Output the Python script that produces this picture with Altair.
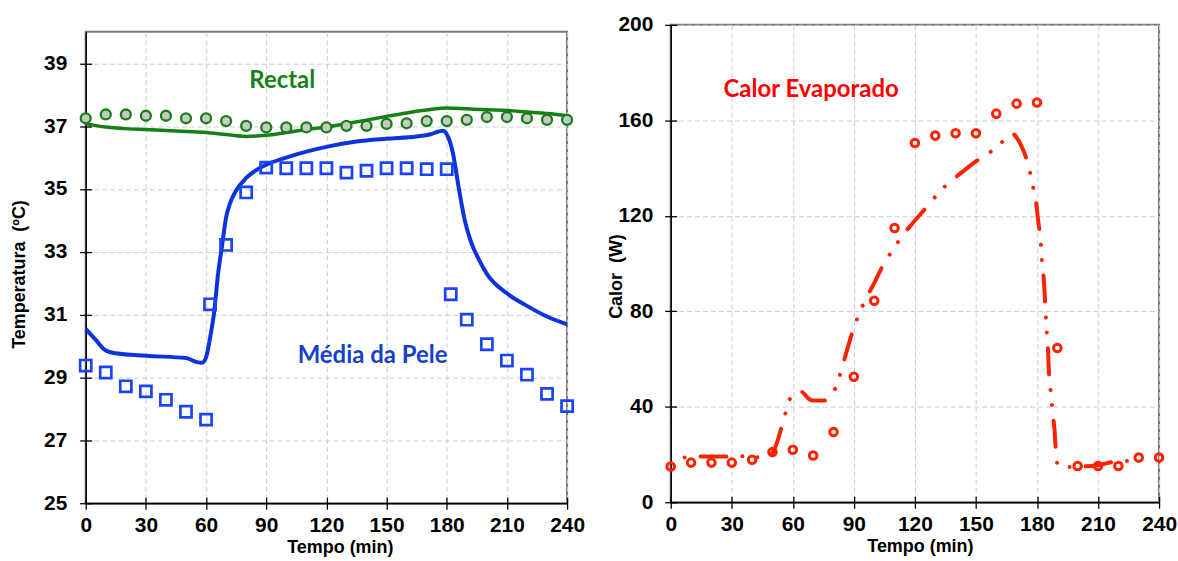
import altair as alt
import pandas as pd

# ---------------- data: left panel (temperatures) ----------------
t_rectal_obs = [0, 10, 20, 30, 40, 50, 60, 70, 80, 90, 100, 110, 120, 130, 140, 150, 160, 170, 180, 190, 200, 210, 220, 230, 240]
v_rectal_obs = [37.25, 37.37, 37.37, 37.33, 37.33, 37.25, 37.25, 37.16, 37.01, 36.96, 36.96, 36.96, 36.96, 37.01, 37.01,
                37.07, 37.09, 37.16, 37.16, 37.2, 37.29, 37.29, 37.25, 37.2, 37.2]

t_rectal_sim = [0, 10, 20, 30, 40, 50, 60, 70, 80, 90, 100, 110, 120, 130, 140, 150, 160, 170, 180, 190, 200, 210, 220, 230, 240]
v_rectal_sim = [37.08, 36.97, 36.92, 36.89, 36.86, 36.83, 36.80, 36.73, 36.67, 36.71, 36.80, 36.89, 36.97, 37.08, 37.19,
                37.31, 37.42, 37.51, 37.58, 37.55, 37.52, 37.50, 37.45, 37.40, 37.33]

t_skin_obs = [0, 10, 20, 30, 40, 50, 60, 62, 70, 80, 90, 100, 110, 120, 130, 140, 150, 160, 170, 180, 182, 190, 200, 210, 220, 230, 240]
v_skin_obs = [29.38, 29.16, 28.72, 28.56, 28.29, 27.91, 27.66, 31.33, 33.22, 34.89, 35.68, 35.66, 35.66, 35.66, 35.52,
              35.58, 35.66, 35.66, 35.63, 35.63, 31.65, 30.84, 30.06, 29.54, 29.09, 28.48, 28.09]

t_skin_sim = [0, 5, 10, 15, 30, 50, 55, 58, 60, 62, 64, 66, 68, 70, 72, 75, 80, 85, 90, 100, 110, 120, 135, 150, 165,
              172, 176, 178, 180, 183, 186, 189, 192, 196, 200, 210, 220, 230, 240]
v_skin_sim = [30.55, 30.2, 29.86, 29.77, 29.69, 29.62, 29.5, 29.47, 29.64, 30.26, 31.06, 32.3, 33.2, 34.1, 34.55, 34.95,
              35.35, 35.6, 35.77, 36.0, 36.19, 36.34, 36.51, 36.6, 36.67, 36.74, 36.83, 36.85, 36.74, 36.17, 35.03,
              34.0, 33.33, 32.76, 32.3, 31.68, 31.28, 30.94, 30.69]

# ---------------- data: right panel (evaporated heat) ----------------
t_evap_obs = [0, 10, 20, 30, 40, 50, 60, 70, 80, 90, 100, 110, 120, 130, 140, 150, 160, 170, 180, 190, 200, 210, 220, 230, 240]
v_evap_obs = [15.0, 16.6, 16.6, 16.6, 17.8, 21.0, 22.0, 19.6, 29.4, 52.6, 84.4, 114.9, 150.5, 153.6, 154.6, 154.6,
              162.8, 167.0, 167.5, 64.6, 15.2, 15.2, 15.2, 18.7, 18.7]

t_evap_sim = [0, 6, 14, 28, 36, 43, 48, 50.3, 54.4, 56.3, 58.8, 63.8, 68, 70, 75.6, 80.8, 83.4, 85.4, 89.5, 95, 100,
              105, 109.4, 113.6, 118.4, 127.5, 132.7, 138.4, 144.2, 150, 156.4, 161.8, 167.5, 171.9, 176.5, 178.1,
              179.6, 180.4, 182, 182.5, 183.3, 184.5, 185, 185.5, 185.8, 187.1, 187.7, 188.6, 189.1, 190.2, 194, 200,
              210, 216.8, 224, 230.7]
v_evap_sim = [18.3, 18.7, 19.2, 19.2, 19.3, 18.8, 19.5, 21.0, 31.2, 37.0, 43.6, 46.5, 43.2, 42.6, 42.6, 47.5, 54.0,
              60.0, 71.8, 83.6, 91.8, 100.3, 106.0, 111.4, 116.4, 125.4, 130.6, 135.0, 139.0, 142.8, 146.3, 150.0,
              154.5, 150.0, 138.7, 132.0, 125.6, 119.2, 107.4, 100.5, 93.9, 76.0, 69.0, 62.4, 55.8, 43.7, 37.3, 30.6,
              23.8, 15.5, 14.8, 14.9, 15.5, 16.8, 17.3, 17.8]

# ---------------- ticks and labels ----------------
x_ticks = [0, 30, 60, 90, 120, 150, 180, 210, 240]
temp_ticks = [25, 27, 29, 31, 33, 35, 37, 39]
heat_ticks = [0, 40, 80, 120, 160, 200]

left_labels = ["Rectal", "Média da Pele"]
left_label_t = [98, 143]
left_label_v = [38.42, 29.69]
right_labels = ["Calor Evaporado"]
right_label_t = [69]
right_label_v = [172.6]

GREEN = "#168016"
BLUE = "#0d33dd"
BLUE_SQ = "#1a44f5"
BLUE_TXT = "#1440cc"
RED = "#ff2200"
RED_TXT = "#ff0000"
AXFONT = "Liberation Sans"
TXTFONT = "Lato"

# ---------------- frames ----------------
df_r_obs = pd.DataFrame({"t": t_rectal_obs, "v": v_rectal_obs})
df_r_sim = pd.DataFrame({"t": t_rectal_sim, "v": v_rectal_sim})
df_s_obs = pd.DataFrame({"t": t_skin_obs, "v": v_skin_obs})
df_s_sim = pd.DataFrame({"t": t_skin_sim, "v": v_skin_sim})
df_e_obs = pd.DataFrame({"t": t_evap_obs, "v": v_evap_obs})
df_e_sim = pd.DataFrame({"t": t_evap_sim, "v": v_evap_sim})
df_lt = pd.DataFrame({"t": left_label_t, "v": left_label_v, "txt": left_labels, "c": [GREEN, BLUE_TXT]})
df_rt = pd.DataFrame({"t": right_label_t, "v": right_label_v, "txt": right_labels})

xscale = alt.Scale(domain=[0, 240], nice=False)
tscale = alt.Scale(domain=[25, 40], nice=False, zero=False)
hscale = alt.Scale(domain=[0, 200], nice=False)


def x_axis(title_x):
    return alt.Axis(values=x_ticks, title="Tempo (min)", labelFlush=False, labelOverlap=False,
                    labelPadding=5, titlePadding=3, titleX=title_x)


def ghost(df, yscale, yvals):
    # second, tick-only axes that make the ticks cross the axis lines
    return alt.Chart(df).mark_point(opacity=0).encode(
        x=alt.X("t:Q", scale=xscale,
                axis=alt.Axis(values=x_ticks, orient="bottom", offset=-6, tickSize=6, labels=False,
                              domain=False, grid=False, title="")),
        y=alt.Y("v:Q", scale=yscale,
                axis=alt.Axis(values=yvals, orient="left", offset=-6, tickSize=6, labels=False,
                              domain=False, grid=False, title="")),
    )


# ---------------- left chart ----------------
skin_line = alt.Chart(df_s_sim).mark_line(color=BLUE, strokeWidth=4, interpolate="monotone").encode(
    x=alt.X("t:Q", scale=xscale, axis=x_axis(255)),
    y=alt.Y("v:Q", scale=tscale,
            axis=alt.Axis(values=temp_ticks, title="Temperatura\u00a0 (ºC)", labelFlush=False, labelOverlap=False,
                          labelPadding=13, titleX=-57, titleY=243)),
)
rectal_line = alt.Chart(df_r_sim).mark_line(color=GREEN, strokeWidth=3.5, interpolate="monotone").encode(
    x="t:Q", y="v:Q")
skin_pts = alt.Chart(df_s_obs).mark_point(shape="square", filled=False, stroke=BLUE_SQ, strokeWidth=2.7,
                                          size=125, opacity=1).encode(x="t:Q", y="v:Q")
rectal_pts = alt.Chart(df_r_obs).mark_point(shape="circle", fill="#c8c8c8", fillOpacity=1, stroke=GREEN,
                                            strokeWidth=2.3, size=100, opacity=1).encode(x="t:Q", y="v:Q")
left_txt = alt.Chart(df_lt).mark_text(font=TXTFONT, fontSize=24, fontWeight="bold").encode(
    x="t:Q", y="v:Q", text="txt:N", color=alt.Color("c:N", scale=None))

left_main = alt.layer(skin_line, rectal_line, skin_pts, rectal_pts, left_txt)
left = alt.layer(left_main, ghost(df_r_obs, tscale, temp_ticks)).resolve_axis(
    x="independent", y="independent").properties(width=483, height=473)

# small invisible spacer that lowers the left panel a few pixels
spacer = alt.Chart(pd.DataFrame({"a": [0]})).mark_point(opacity=0).encode(
    x=alt.value(0), y=alt.value(0)).properties(width=483, height=6, view=alt.ViewBackground(strokeOpacity=0))
left_col = alt.vconcat(spacer, left, spacing=0)

# ---------------- right chart ----------------
evap_line = alt.Chart(df_e_sim).mark_line(color=RED, strokeWidth=4, interpolate="monotone",
                                          strokeDash=[26, 16, 0.01, 15, 0.01, 16], strokeCap="round",
                                          strokeDashOffset=43).encode(
    x=alt.X("t:Q", scale=xscale, axis=x_axis(250)),
    y=alt.Y("v:Q", scale=hscale,
            axis=alt.Axis(values=heat_ticks, title="Calor\u00a0 (W)", labelFlush=False, labelOverlap=False,
                          labelPadding=12, titleX=-45, titleY=252)),
)
evap_pts = alt.Chart(df_e_obs).mark_point(shape="circle", filled=False, stroke=RED, strokeWidth=3,
                                          size=58, opacity=1).encode(x="t:Q", y="v:Q")
right_txt = alt.Chart(df_rt).mark_text(font=TXTFONT, fontSize=24, fontWeight="bold", color=RED_TXT).encode(
    x="t:Q", y="v:Q", text="txt:N")

right_main = alt.layer(evap_line, evap_pts, right_txt)
right = alt.layer(right_main, ghost(df_e_obs, hscale, heat_ticks)).resolve_axis(
    x="independent", y="independent").properties(width=490, height=479)

chart = alt.hconcat(left_col, right, spacing=21).properties(
    padding={"left": 10, "top": 12, "right": 0, "bottom": 0}
).configure_view(stroke="#777777", strokeWidth=2).configure_axis(
    labelFont=AXFONT, labelFontSize=21, labelFontWeight="bold", labelColor="black",
    titleFont=AXFONT, titleFontSize=18, titleFontWeight="bold", titleColor="black",
    tickColor="black", tickSize=6, tickWidth=1.3, domainColor="black", domainWidth=1.5,
    gridColor="#cccccc", gridDash=[5, 3], gridWidth=1
)

chart.save("out.html", embed_options={"renderer": "svg", "actions": False})
